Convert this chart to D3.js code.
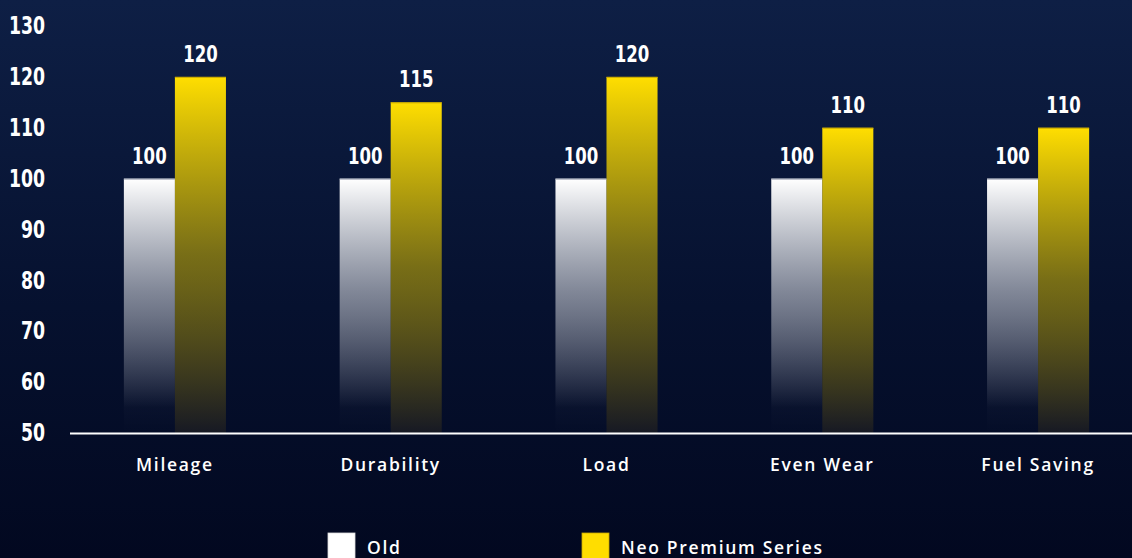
<!DOCTYPE html>
<html>
<head>
<meta charset="utf-8">
<script src="https://cdn.jsdelivr.net/npm/d3@7"></script>
<style>
  html, body { margin: 0; padding: 0; background: #020820; }
  svg { display: block; }
</style>
</head>
<body>
<svg id="chart" width="1132" height="558"></svg>
<script>
const categories = ["Mileage", "Durability", "Load", "Even Wear", "Fuel Saving"];
const seriesNames = ["Old", "Neo Premium Series"];
const oldValues = [100, 100, 100, 100, 100];
const neoValues = [120, 115, 120, 110, 110];
const yTicks = [50, 60, 70, 80, 90, 100, 110, 120, 130];

const W = 1132, H = 558;
const svg = d3.select("#chart");
const defs = svg.append("defs");

const bg = defs.append("linearGradient").attr("id", "bg").attr("x1", 0).attr("y1", 0).attr("x2", 0).attr("y2", 1);
bg.append("stop").attr("offset", "0%").attr("stop-color", "#0e1f45");
bg.append("stop").attr("offset", "55%").attr("stop-color", "#06112f");
bg.append("stop").attr("offset", "100%").attr("stop-color", "#020820");
svg.append("rect").attr("width", W).attr("height", H).attr("fill", "url(#bg)");

const gOld = defs.append("linearGradient").attr("id", "gOld").attr("x1", 0).attr("y1", 0).attr("x2", 0).attr("y2", 1);
gOld.append("stop").attr("offset", "0%").attr("stop-color", "#ffffff").attr("stop-opacity", 1);
gOld.append("stop").attr("offset", "45%").attr("stop-color", "#d0d3da").attr("stop-opacity", 0.6);
gOld.append("stop").attr("offset", "90%").attr("stop-color", "#ffffff").attr("stop-opacity", 0.02);
gOld.append("stop").attr("offset", "100%").attr("stop-color", "#ffffff").attr("stop-opacity", 0);

const gNeo = defs.append("linearGradient").attr("id", "gNeo").attr("x1", 0).attr("y1", 0).attr("x2", 0).attr("y2", 1);
gNeo.append("stop").attr("offset", "0%").attr("stop-color", "#ffde00").attr("stop-opacity", 1);
gNeo.append("stop").attr("offset", "50%").attr("stop-color", "#d4b800").attr("stop-opacity", 0.55);
gNeo.append("stop").attr("offset", "100%").attr("stop-color", "#1e1e22").attr("stop-opacity", 0.7);

const y = d3.scaleLinear().domain([50, 130]).range([433, 26]);
const x0 = d3.scaleBand().domain(categories).range([67, 1146]).paddingInner(0.527).paddingOuter(0.2635);
const x1 = d3.scaleBand().domain(seriesNames).range([0, x0.bandwidth()]);

const condensed = "'DejaVu Sans Condensed', 'DejaVu Sans', sans-serif";
const wide = "'Open Sans', 'DejaVu Sans', sans-serif";

// y axis
const yAxis = svg.append("g").attr("transform", "translate(45,0)")
  .call(d3.axisLeft(y).tickValues(yTicks).tickSize(0).tickPadding(0));
yAxis.select(".domain").remove();
yAxis.selectAll("text")
  .attr("x", 0)
  .attr("transform", "scale(0.8,1)")
  .attr("fill", "#ffffff")
  .style("font-family", condensed)
  .style("font-weight", "bold")
  .style("font-size", "24px");

// bars
const data = categories.map((c, i) => ({ cat: c, vals: [
  { s: seriesNames[0], v: oldValues[i] },
  { s: seriesNames[1], v: neoValues[i] }
]}));

const groups = svg.append("g").selectAll("g").data(data).join("g")
  .attr("transform", d => `translate(${x0(d.cat)},0)`);

groups.selectAll("rect").data(d => d.vals).join("rect")
  .attr("x", d => x1(d.s))
  .attr("y", d => y(d.v))
  .attr("width", x1.bandwidth())
  .attr("height", d => y(50) - y(d.v))
  .attr("fill", (d, i) => i === 0 ? "url(#gOld)" : "url(#gNeo)");

// top edges
groups.selectAll("line.top").data(d => d.vals).join("line")
  .attr("class", "top")
  .attr("x1", d => x1(d.s)).attr("x2", d => x1(d.s) + x1.bandwidth())
  .attr("y1", d => y(d.v) + 0.5).attr("y2", d => y(d.v) + 0.5)
  .attr("stroke", (d, i) => i === 0 ? "#9aa0b0" : "#c9a800")
  .attr("stroke-width", 1);

groups.selectAll("g.val").data(d => d.vals).join("g")
  .attr("class", "val")
  .attr("transform", d => `translate(${x1(d.s) + x1.bandwidth() / 2},${y(d.v) - 15}) scale(0.8,1)`)
  .append("text")
  .attr("text-anchor", "middle")
  .attr("fill", "#ffffff")
  .style("font-family", condensed)
  .style("font-weight", "bold")
  .style("font-size", "23px")
  .text(d => d.v);

// baseline
svg.append("line")
  .attr("x1", 70).attr("x2", W)
  .attr("y1", y(50) + 0.5).attr("y2", y(50) + 0.5)
  .attr("stroke", "#ffffff").attr("stroke-width", 2);

// x labels
svg.append("g").selectAll("text").data(categories).join("text")
  .attr("x", d => x0(d) + x0.bandwidth() / 2)
  .attr("y", 471)
  .attr("text-anchor", "middle")
  .attr("fill", "#ffffff")
  .style("font-family", wide)
  .style("font-weight", 600)
  .style("font-size", "17.5px")
  .style("letter-spacing", "1.7px")
  .text(d => d);

// legend
const legendX = [328, 582];
const legendColors = ["#ffffff", "#ffdd00"];
const leg = svg.append("g").selectAll("g").data(seriesNames).join("g")
  .attr("transform", (d, i) => `translate(${legendX[i]},533)`);
leg.append("rect").attr("width", 27).attr("height", 27)
  .attr("fill", (d, i) => legendColors[i])
  .attr("stroke", (d, i) => i === 0 ? "#dddddd" : "#c9a800").attr("stroke-width", 0.8);
leg.append("text").attr("x", 39).attr("y", 21)
  .attr("fill", "#ffffff")
  .style("font-family", wide)
  .style("font-weight", 600)
  .style("font-size", "17.5px")
  .style("letter-spacing", "1.7px")
  .text(d => d);
</script>
</body>
</html>
